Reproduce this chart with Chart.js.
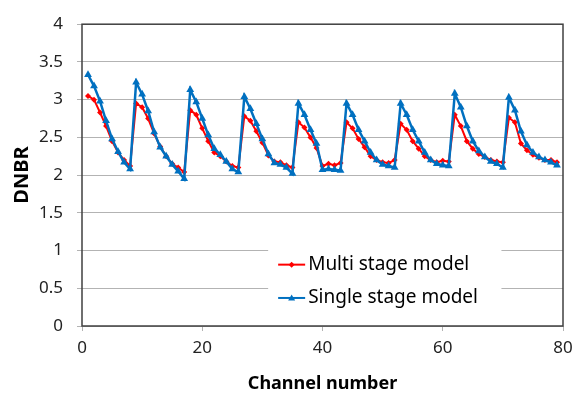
<!DOCTYPE html>
<html>
<head>
<meta charset="utf-8">
<script src="https://cdn.jsdelivr.net/npm/chart.js@4.4.0/dist/chart.umd.min.js"></script>
<style>
  html, body { margin: 0; padding: 0; background: #fff; }
  #wrap { width: 573px; height: 395px; }
</style>
</head>
<body>
<div id="wrap"><canvas id="chartDnbr"></canvas></div>
<script>
const channels = [
    1, 2, 3, 4, 5, 6, 7, 8, 9, 10, 11, 12, 13, 14, 15, 16, 17, 18, 19, 20,
    21, 22, 23, 24, 25, 26, 27, 28, 29, 30, 31, 32, 33, 34, 35, 36, 37, 38, 39, 40,
    41, 42, 43, 44, 45, 46, 47, 48, 49, 50, 51, 52, 53, 54, 55, 56, 57, 58, 59, 60,
    61, 62, 63, 64, 65, 66, 67, 68, 69, 70, 71, 72, 73, 74, 75, 76, 77, 78, 79,
];

const multiStage = [
    3.05, 3.0, 2.83, 2.65, 2.45, 2.3, 2.2, 2.12,
    2.95, 2.9, 2.75, 2.55, 2.38, 2.25, 2.15, 2.1, 2.04,
    2.86, 2.8, 2.62, 2.45, 2.3, 2.25, 2.18, 2.12, 2.1,
    2.78, 2.72, 2.58, 2.43, 2.26, 2.18, 2.17, 2.13, 2.1,
    2.7, 2.63, 2.5, 2.36, 2.12, 2.15, 2.13, 2.16,
    2.7, 2.62, 2.48, 2.37, 2.25, 2.2, 2.17, 2.16, 2.2,
    2.68, 2.6, 2.45, 2.35, 2.25, 2.2, 2.17, 2.19, 2.18,
    2.8, 2.65, 2.45, 2.35, 2.28, 2.24, 2.2, 2.18, 2.17,
    2.76, 2.7, 2.42, 2.33, 2.27, 2.23, 2.2, 2.2, 2.17,
];

const singleStage = [
    3.33, 3.18, 2.98, 2.72, 2.48, 2.31, 2.17, 2.08,
    3.23, 3.07, 2.85, 2.57, 2.37, 2.25, 2.14, 2.05, 1.95,
    3.13, 2.97, 2.75, 2.53, 2.35, 2.27, 2.18, 2.08, 2.04,
    3.04, 2.88, 2.68, 2.48, 2.28, 2.16, 2.14, 2.1, 2.02,
    2.95, 2.8, 2.6, 2.42, 2.07, 2.08, 2.07, 2.06,
    2.95, 2.8, 2.6, 2.45, 2.3, 2.2, 2.14, 2.12, 2.1,
    2.95, 2.8, 2.6, 2.45, 2.3, 2.2, 2.15, 2.13, 2.12,
    3.08, 2.9, 2.65, 2.45, 2.32, 2.24, 2.18, 2.15, 2.1,
    3.03, 2.86, 2.58, 2.4, 2.3, 2.24, 2.2, 2.17, 2.13,
];

const seriesLabels = ["Multi stage model", "Single stage model"];
const xTicks = [0, 20, 40, 60, 80];
const yTicks = [0, 0.5, 1, 1.5, 2, 2.5, 3, 3.5, 4];

const RED = "#ff0000";
const BLUE = "#0070c0";
const FONT = "'Noto Sans', 'Open Sans', sans-serif";

const toPoints = (ys) => ys.map((y, i) => ({ x: channels[i], y: y }));

// frame round the plot area + legend box in the lower right
const framePlugin = {
    id: "frame",
    beforeDatasetsDraw(chart) {
        const { ctx, chartArea: a } = chart;
        ctx.save();
        ctx.strokeStyle = "#404040";
        ctx.lineWidth = 1.5;
        ctx.strokeRect(a.left, a.top, a.right - a.left, a.bottom - a.top);
        ctx.restore();
    },
    afterDatasetsDraw(chart) {
        const { ctx, chartArea: a } = chart;
        const w = a.right - a.left;
        const h = a.bottom - a.top;
        const bx = a.left + w * 0.387;
        const by = a.top + h * 0.73;
        const bw = w * 0.485;
        const bh = h * 0.23;
        ctx.save();
        ctx.fillStyle = "#fff";
        ctx.fillRect(bx, by, bw, bh);
        ctx.font = "19px " + FONT;
        ctx.textBaseline = "middle";
        chart.data.datasets.forEach((ds, i) => {
            const cy = by + bh * (0.29 + i * 0.48);
            const x0 = bx + 10;
            const x1 = bx + 37;
            ctx.strokeStyle = ds.borderColor;
            ctx.lineWidth = 2;
            ctx.beginPath();
            ctx.moveTo(x0, cy);
            ctx.lineTo(x1, cy);
            ctx.stroke();
            ctx.fillStyle = ds.borderColor;
            ctx.beginPath();
            const mx = (x0 + x1) / 2;
            if (ds.pointStyle === "triangle") {
                ctx.moveTo(mx, cy - 3.5);
                ctx.lineTo(mx + 3.5, cy + 2.5);
                ctx.lineTo(mx - 3.5, cy + 2.5);
            } else {
                ctx.moveTo(mx, cy - 3);
                ctx.lineTo(mx + 3, cy);
                ctx.lineTo(mx, cy + 3);
                ctx.lineTo(mx - 3, cy);
            }
            ctx.closePath();
            ctx.fill();
            ctx.fillStyle = "#000";
            ctx.fillText(ds.label, x1 + 3, cy);
        });
        ctx.restore();
    },
};

const dataDnbr = {
    datasets: [
        {
            label: seriesLabels[0],
            data: toPoints(multiStage),
            borderColor: RED,
            backgroundColor: RED,
            borderWidth: 2,
            pointStyle: "rectRot",
            pointRadius: 3,
            pointBorderWidth: 0,
            order: 2,
        },
        {
            label: seriesLabels[1],
            data: toPoints(singleStage),
            borderColor: BLUE,
            backgroundColor: BLUE,
            borderWidth: 2.5,
            pointStyle: "triangle",
            pointRadius: 4.5,
            pointBorderWidth: 0,
            order: 1,
        },
    ],
};

const configDnbr = {
    type: "line",
    data: dataDnbr,
    plugins: [framePlugin],
    options: {
        responsive: true,
        maintainAspectRatio: false,
        animation: false,
        layout: {
            padding: { top: 17, right: 10, left: 0, bottom: 0 },
        },
        plugins: {
            legend: { display: false },
            tooltip: { enabled: false },
        },
        scales: {
            x: {
                type: "linear",
                min: 0,
                max: 80,
                afterFit: (scale) => {
                    scale.height = 69;
                    scale.paddingLeft = 0;
                    scale.paddingRight = 0;
                },
                afterBuildTicks: (scale) => { scale.ticks = xTicks.map((v) => ({ value: v })); },
                border: { display: false },
                grid: {
                    drawOnChartArea: false,
                    drawTicks: true,
                    tickLength: 5,
                    color: "#b3b3b3",
                },
                ticks: {
                    color: "#222",
                    padding: 7,
                    maxRotation: 0,
                    callback: (v) => String(v),
                    font: { family: FONT, size: 17 },
                },
                title: {
                    display: true,
                    text: "Channel number",
                    color: "#000",
                    padding: { top: 0, bottom: 0 },
                    font: { family: FONT, size: 18, weight: "bold" },
                },
            },
            y: {
                min: 0,
                max: 4,
                afterFit: (scale) => { scale.width = 82; },
                afterBuildTicks: (scale) => { scale.ticks = yTicks.map((v) => ({ value: v })); },
                border: { display: false },
                grid: {
                    color: "#b3b3b3",
                    lineWidth: 1,
                    drawTicks: true,
                    tickLength: 5,
                },
                ticks: {
                    color: "#222",
                    padding: 14,
                    callback: (v) => String(v),
                    font: { family: FONT, size: 17 },
                },
                title: {
                    display: true,
                    text: "DNBR",
                    color: "#000",
                    padding: { top: 10, bottom: 0 },
                    font: { family: FONT, size: 20, weight: "bold" },
                },
            },
        },
    },
};

new Chart(document.getElementById("chartDnbr"), configDnbr);
</script>
</body>
</html>
